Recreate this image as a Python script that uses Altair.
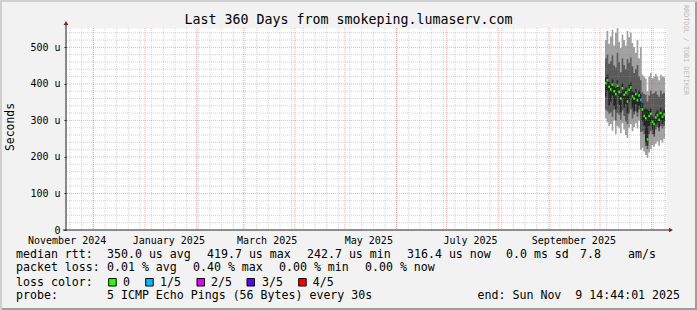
import altair as alt
import pandas as pd

NB = "\u00a0"
FONT = "DejaVu Sans Mono"

# ---------------- data ----------------
first_day = "2025-10-04"
n_days = 36
median_us = [402, 410, 392, 385, 398, 380, 372, 395, 378, 360, 388, 370, 376, 352, 384, 390, 366, 360,
             372, 355, 368, 356, 330, 312, 306, 248, 312, 318, 296, 290, 308, 314, 302, 320, 310, 316]
loss_fifths = [0] * 21 + [1] + [0] * 14
smoke_max = [520, 545, 510, 530, 548, 505, 540, 552, 515, 498, 535, 520, 505, 545, 528, 540, 512, 500,
             485, 520, 470, 500, 425, 420, 415, 380, 420, 430, 415, 420, 428, 420, 410, 425, 420, 418]
smoke_min = [305, 295, 285, 290, 272, 300, 262, 285, 280, 265, 292, 275, 260, 252, 280, 290, 270, 282,
             292, 278, 300, 220, 225, 215, 205, 198, 212, 222, 232, 228, 236, 242, 230, 246, 240, 250]
mid_hi = [470, 480, 455, 462, 478, 450, 445, 485, 460, 432, 470, 452, 440, 468, 458, 472, 448, 430,
          440, 452, 420, 410, 378, 372, 370, 352, 368, 382, 372, 375, 380, 370, 365, 382, 372, 376]
mid_lo = [330, 325, 318, 322, 310, 330, 300, 320, 315, 302, 328, 312, 298, 290, 318, 330, 305, 316,
          325, 310, 330, 268, 270, 262, 230, 222, 262, 272, 262, 255, 275, 282, 270, 285, 278, 285]
core_hi = [418, 425, 405, 398, 412, 392, 388, 410, 392, 374, 402, 384, 390, 368, 398, 404, 380, 376,
           386, 370, 382, 372, 348, 330, 332, 330, 326, 332, 312, 306, 322, 328, 316, 334, 324, 330]
core_lo = [365, 380, 340, 352, 368, 340, 330, 368, 342, 322, 360, 335, 345, 318, 350, 362, 335, 325,
           345, 322, 340, 334, 298, 286, 240, 232, 285, 296, 276, 262, 288, 294, 280, 300, 290, 298]

y_ticks = [0, 100, 200, 300, 400, 500]
x_label_months = [(2024, 11), (2025, 1), (2025, 3), (2025, 5), (2025, 7), (2025, 9)]

title_text = "Last 360 Days from smokeping.lumaserv.com"
y_title = "Seconds"
watermark = "RRDTOOL / TOBI OETIKER"
row1 = [("median rtt:", -50), ("350.0 us avg", 41), ("419.7 us max", 141), ("242.7 us min", 241),
        ("316.4 us now", 341), ("0.0 ms sd", 440), ("7.8", 514), ("am/s", 562)]
row2 = [("packet loss:", -50), ("0.01 % avg", 41), ("0.40 % max", 127), ("0.00 % min", 213),
        ("0.00 % now", 299)]
loss_labels = ["0", "1/5", "2/5", "3/5", "4/5"]
loss_colors = ["#26ff00", "#00b8ff", "#dd00ff", "#5e00ff", "#ff0000"]
probe_text = "5 ICMP Echo Pings (56 Bytes) every 30s"
end_text = "end: Sun Nov  9 14:44:01 2025"

# ---------------- tables ----------------
days = pd.date_range(first_day, periods=n_days, freq="D")
fmt = "%Y-%m-%dT%H:%M:%S"
df = pd.DataFrame({
    "d": days.strftime(fmt),
    "d2": (days + pd.Timedelta(days=1)).strftime(fmt),
    "med": median_us, "loss": loss_fifths,
    "lo": smoke_min, "hi": smoke_max,
    "mlo": mid_lo, "mhi": mid_hi,
    "clo": core_lo, "chi": core_hi,
})
end_row = df.iloc[[-1]].copy()
end_row["d"] = end_row["d2"]
df_area = pd.concat([df, end_row], ignore_index=True)

week_lines = pd.DataFrame({"d": pd.date_range("2024-11-17", "2025-11-09", freq="7D").strftime(fmt)})
month_lines = pd.DataFrame({"d": pd.date_range("2024-12-01", "2025-11-01", freq="MS").strftime(fmt)})
ymin_lines = pd.DataFrame({"lo": [v for v in range(20, 560, 20) if v % 100]})
ymaj_lines = pd.DataFrame({"lo": [100, 200, 300, 400, 500]})

W, H = 600, 202
xscale = alt.Scale(domain=[alt.DateTime(year=2024, month=11, date=14, hours=14, minutes=44, seconds=1),
                           alt.DateTime(year=2025, month=11, date=9, hours=14, minutes=44, seconds=1)])
yscale = alt.Scale(domain=[0, 553], nice=False)

xaxis = alt.Axis(values=[alt.DateTime(year=y, month=m, date=15) for y, m in x_label_months],
                 format="%B %Y", grid=False, domain=False, ticks=False, labelFont=FONT,
                 labelFontSize=10, labelColor="black", labelPadding=5, labelAngle=0,
                 labelFlush=False, labelOverlap=False, labelBaseline="top", title=None)
yaxis = alt.Axis(values=y_ticks, labelExpr=f"datum.value == 0 ? '0{NB}{NB}' : datum.value + '{NB}u'",
                 grid=False, domain=False, ticks=True, tickSize=2, tickColor="#1f1f1f",
                 labelFont=FONT, labelFontSize=10, labelColor="black", labelPadding=4,
                 labelBaseline="middle", title=None)

X = alt.X("d:T", scale=xscale, axis=xaxis)


def Y(field):
    return alt.Y(f"{field}:Q", scale=yscale, axis=yaxis)


def band(lo, hi, color):
    return alt.Chart(df_area).mark_area(interpolate="step-after", color=color, clip=True).encode(
        x=X, y=Y(lo), y2=f"{hi}:Q")


light = band("lo", "hi", "#a2a2a2")
mid = band("mlo", "mhi", "#5a5a5a")
core = band("clo", "chi", "#262626")

GRAY, RED = "#8f8f8f", "#de4f4f"
grid_week = alt.Chart(week_lines).mark_rule(color=GRAY, opacity=0.38, strokeDash=[1, 1], strokeWidth=1).encode(x=X)
grid_month = alt.Chart(month_lines).mark_rule(color=RED, opacity=0.45, strokeDash=[1, 1], strokeWidth=1).encode(x=X)
grid_ymin = alt.Chart(ymin_lines).mark_rule(color=GRAY, opacity=0.38, strokeDash=[1, 1], strokeWidth=1).encode(y=Y("lo"))
grid_ymaj = alt.Chart(ymaj_lines).mark_rule(color=RED, opacity=0.45, strokeDash=[1, 1], strokeWidth=1).encode(y=Y("lo"))

median_marks = alt.Chart(df).transform_calculate(
    m_lo="datum.med - 3.5", m_hi="datum.med + 3.5"
).mark_rect(clip=True).encode(
    x=X, x2="d2:T",
    y=Y("m_lo"), y2="m_hi:Q",
    color=alt.Color("loss:O", scale=alt.Scale(domain=[0, 1, 2, 3, 4], range=loss_colors), legend=None),
)

one = pd.DataFrame({"a": [0]})


def rect(x, x2, y, y2, color, stroke=None):
    kw = dict(color=color)
    if stroke:
        kw.update(stroke=stroke, strokeWidth=1)
    return alt.Chart(one).mark_rect(**kw).encode(
        x=alt.value(x), x2=alt.value(x2), y=alt.value(y), y2=alt.value(y2))


def txt(s, x, y, size=11.6, align="left", angle=0, color="black"):
    s = s.replace(" ", NB)
    return alt.Chart(pd.DataFrame({"t": [s]})).mark_text(
        align=align, baseline="middle", font=FONT, fontSize=size, color=color, angle=angle
    ).encode(text="t:N", x=alt.value(x), y=alt.value(y))


AX = "#1f1f1f"
ARROW = "#801f1f"
y_axis_line = alt.Chart(one).mark_rule(color=AX, strokeWidth=1).encode(
    x=alt.value(0), y=alt.value(-4), y2=alt.value(H))
x_axis_line = alt.Chart(one).mark_rule(color=AX, strokeWidth=1).encode(
    x=alt.value(-3), x2=alt.value(W + 4), y=alt.value(H))
arrow_up = alt.Chart(one).mark_point(shape="triangle-up", filled=True, size=22, color=ARROW, opacity=1).encode(
    x=alt.value(0), y=alt.value(-5))
arrow_right = alt.Chart(one).mark_point(shape="triangle-right", filled=True, size=22, color=ARROW, opacity=1).encode(
    x=alt.value(W + 5), y=alt.value(H))

frame = [
    rect(-66, 631, -28, -26, "#cfcfcf"),
    rect(-66, -64, -28, 282, "#cfcfcf"),
    rect(-64, 631, 280, 282, "#9e9e9e"),
    rect(629, 631, -26, 282, "#9e9e9e"),
]

texts = [
    txt(title_text, 282.5, -8, size=13.3, align="center"),
    txt(y_title, -55.5, 99, size=11.4, align="center", angle=270),
    txt(watermark, 620, 22, size=6.8, align="center", angle=90, color="#bababa"),
]
for s, x in row1:
    texts.append(txt(s, x, 226.7))
for s, x in row2:
    texts.append(txt(s, x, 240))
texts.append(txt("loss color:", -50, 254.5))
box_x = [42.7, 79.7, 131, 181, 232.7]
lab_x = [57, 94, 145, 196, 246.7]
for lab, col, bx, lx in zip(loss_labels, loss_colors, box_x, lab_x):
    texts.append(rect(bx, bx + 7.5, 250.5, 258, col, stroke="black"))
    texts.append(txt(lab, lx, 254.5))
texts.append(txt("probe:", -50, 268))
texts.append(txt(probe_text, 41, 268))
texts.append(txt(end_text, 614, 268, align="right"))

chart = alt.layer(
    light, mid, core,
    grid_ymin, grid_week, grid_ymaj, grid_month,
    median_marks,
    x_axis_line, y_axis_line, arrow_up, arrow_right,
    *frame, *texts,
).properties(
    width=W, height=H,
    autosize=alt.AutoSizeParams(type="none"),
    padding={"left": 66, "top": 28, "right": 31, "bottom": 80},
    background="#f2f2f2",
).configure_view(fill="white", strokeOpacity=0)

chart.save("out.html", embed_options={"renderer": "svg", "actions": False})
